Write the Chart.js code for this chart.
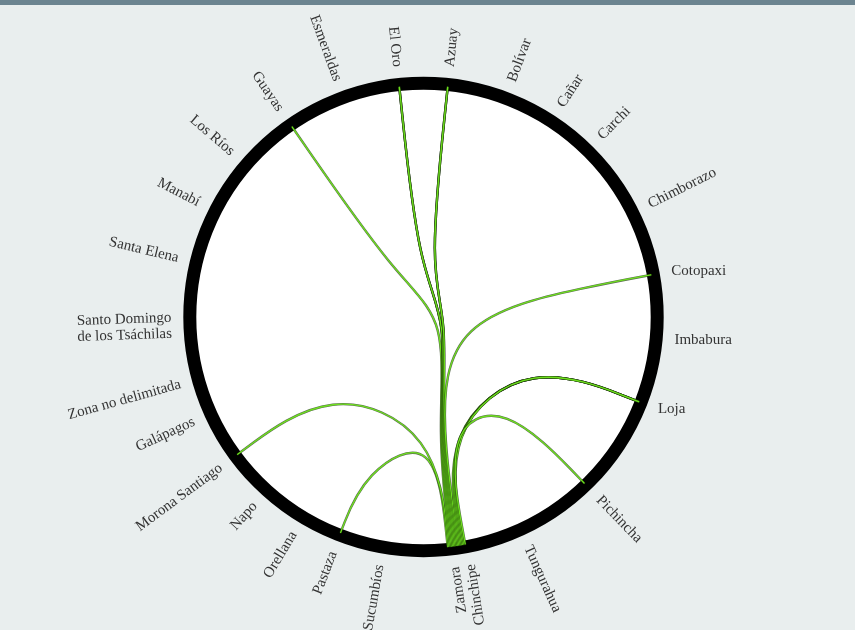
<!DOCTYPE html>
<html>
<head>
<meta charset="utf-8">
<script src="https://cdn.jsdelivr.net/npm/chart.js@4.4.0/dist/chart.umd.min.js"></script>
<style>
  html, body { margin: 0; padding: 0; background: #e9eeee; }
  #wrap { position: relative; width: 855px; height: 630px; }
  #bar { position: absolute; left: 0; top: 0; width: 855px; height: 5px; background: #6c8490; }
</style>
</head>
<body>
<div id="wrap">
  <canvas id="chord" width="855" height="630"></canvas>
  <div id="bar"></div>
</div>
<script>
// nodes, clockwise from the top
const provinces = ['Azuay', 'Bolívar', 'Cañar', 'Carchi', 'Chimborazo', 'Cotopaxi', 'Imbabura', 'Loja',
    'Pichincha', 'Tungurahua', 'Zamora\nChinchipe', 'Sucumbíos', 'Pastaza', 'Orellana', 'Napo',
    'Morona Santiago', 'Galápagos', 'Zona no delimitada', 'Santo Domingo\nde los Tsáchilas', 'Santa Elena',
    'Manabí', 'Los Ríos', 'Guayas', 'Esmeraldas', 'El Oro'];

// links, all from Zamora Chinchipe
const linkSource = 'Zamora\nChinchipe';
const linkTarget = ['El Oro', 'Azuay', 'Loja', 'Guayas', 'Cotopaxi', 'Pichincha', 'Morona Santiago', 'Pastaza'];
const linkCount = [3, 3, 4, 1, 1, 1, 1, 1];

// layout: angle of each node (degrees, clockwise from top), in the order of provinces
const nodeAngle = [6, 20.5, 33, 44.5, 63.5, 79.5, 95.3, 111.5, 136, 155.6, 171, 190, 201, 211, 222, 233.5,
    245.5, 254.5, 268, 283.5, 297, 310.7, 325.4, 340, 354];
// links that bundle through the centre (with their pull), the rest bend straight into Zamora
const viaCentre = { 'El Oro': 0.2, 'Azuay': 0.2, 'Guayas': 0.2, 'Cotopaxi': 0.75 };
const localPull = { 'Loja': 0.5, 'Pichincha': 0.5, 'Morona Santiago': 0.5, 'Pastaza': 0.72 };

const Theme = {
    page: '#e9eeee',
    ring: '#000000',
    disk: '#ffffff',
    link: '#6ee01e',
    linkEdge: 'rgba(22, 48, 6, 0.7)',
    text: '#333333'
};

const rad = d => d * Math.PI / 180;
const onCircle = (deg, r) => ({ x: r * Math.sin(rad(deg)), y: r * Math.cos(rad(deg)) });
const angleOf = name => nodeAngle[provinces.indexOf(name)];

// d3-style basis spline through the control polygon
function basis(ctx, P) {
    let x0 = P[0].x, y0 = P[0].y, x1 = P[1].x, y1 = P[1].y;
    ctx.moveTo(x0, y0);
    ctx.lineTo((5 * x0 + x1) / 6, (5 * y0 + y1) / 6);
    const seg = (x, y) => {
        ctx.bezierCurveTo((2 * x0 + x1) / 3, (2 * y0 + y1) / 3, (x0 + 2 * x1) / 3, (y0 + 2 * y1) / 3,
            (x0 + 4 * x1 + x) / 6, (y0 + 4 * y1 + y) / 6);
        x0 = x1; y0 = y1; x1 = x; y1 = y;
    };
    for (let i = 2; i < P.length; i++) seg(P[i].x, P[i].y);
    seg(x1, y1);
    ctx.lineTo(x1, y1);
}

const chordPlugin = {
    id: 'chord',
    beforeDraw(chart) {
        const { ctx, width, height } = chart;
        ctx.save();
        ctx.fillStyle = Theme.page;
        ctx.fillRect(0, 0, width, height);
        ctx.restore();
    },
    beforeDatasetsDraw(chart) {
        const { ctx } = chart;
        const xs = chart.scales.x, ys = chart.scales.y;
        const cx = xs.getPixelForValue(0), cy = ys.getPixelForValue(0);
        const unit = xs.getPixelForValue(1) - cx;
        ctx.save();
        ctx.fillStyle = Theme.disk;
        ctx.beginPath();
        ctx.arc(cx, cy, unit * 1.0, 0, Math.PI * 2);
        ctx.fill();
        ctx.strokeStyle = Theme.ring;
        ctx.lineWidth = 13;
        ctx.beginPath();
        ctx.arc(cx, cy, unit * 1.011, 0, Math.PI * 2);
        ctx.stroke();
        ctx.restore();
    },
    afterDatasetsDraw(chart) {
        const { ctx } = chart;
        const xs = chart.scales.x, ys = chart.scales.y;
        const px = p => ({ x: xs.getPixelForValue(p.x), y: ys.getPixelForValue(p.y) });
        const zA = angleOf(linkSource);

        // one strand per link, fanned a little at the Zamora end
        const strands = [];
        linkTarget.forEach((t, i) => {
            for (let k = 0; k < linkCount[i]; k++) strands.push(t);
        });
        strands.sort((a, b) => ((angleOf(a) - zA + 360) % 360) - ((angleOf(b) - zA + 360) % 360));
        const zHi = 174, zLo = 169.6;
        const root = { x: 0.106, y: -0.004 };

        ctx.save();
        ctx.lineCap = 'round';
        ctx.lineJoin = 'round';
        strands.forEach((t, i) => {
            const za = zHi - (zHi - zLo) * i / (strands.length - 1);
            const Z = onCircle(za, 1), T = onCircle(angleOf(t), 1);
            const cross = t in viaCentre;
            const k = cross ? viaCentre[t] : localPull[t];
            const A = { x: T.x * k, y: T.y * k };
            const B = { x: Z.x * 0.5, y: Z.y * 0.5 };
            const pts = cross ? [T, A, root, B, Z] : [T, A, B, Z];
            const P = pts.map(px);
            ctx.beginPath();
            basis(ctx, P);
            ctx.strokeStyle = Theme.linkEdge;
            ctx.lineWidth = 2.4;
            ctx.stroke();
            ctx.beginPath();
            basis(ctx, P);
            ctx.strokeStyle = Theme.link;
            ctx.lineWidth = 1.3;
            ctx.stroke();
        });
        ctx.restore();

        // labels, radial, flipped on the left half, level near the right side
        ctx.save();
        ctx.font = '15px "Liberation Serif", serif';
        ctx.fillStyle = Theme.text;
        ctx.textBaseline = 'middle';
        provinces.forEach((name, i) => {
            const a = nodeAngle[i];
            const p = px(onCircle(a, 1.09));
            const flip = a > 165;
            let rot = flip ? a + 90 : a - 90;
            if (Math.abs(a - 90) < 25) rot = 0;
            ctx.save();
            ctx.translate(p.x, p.y);
            ctx.rotate(rad(rot));
            ctx.textAlign = flip ? 'right' : 'left';
            const lines = name.split('\n');
            lines.forEach((ln, j) => {
                ctx.fillText(ln, 0, (j - (lines.length - 1) / 2) * 16);
            });
            ctx.restore();
        });
        ctx.restore();
    }
};

const canvas = document.getElementById('chord');
new Chart(canvas.getContext('2d'), {
    type: 'scatter',
    data: {
        datasets: [{
            label: 'Provincias',
            data: provinces.map((p, i) => onCircle(nodeAngle[i], 1)),
            pointRadius: 0,
            showLine: false
        }]
    },
    options: {
        responsive: false,
        animation: false,
        layout: { padding: { left: 123, right: 131, top: 17, bottom: 13 } },
        scales: {
            x: { display: false, min: -1.3, max: 1.3 },
            y: { display: false, min: -1.3, max: 1.3 }
        },
        plugins: {
            legend: { display: false },
            tooltip: { enabled: false }
        }
    },
    plugins: [chordPlugin]
});
</script>
</body>
</html>
